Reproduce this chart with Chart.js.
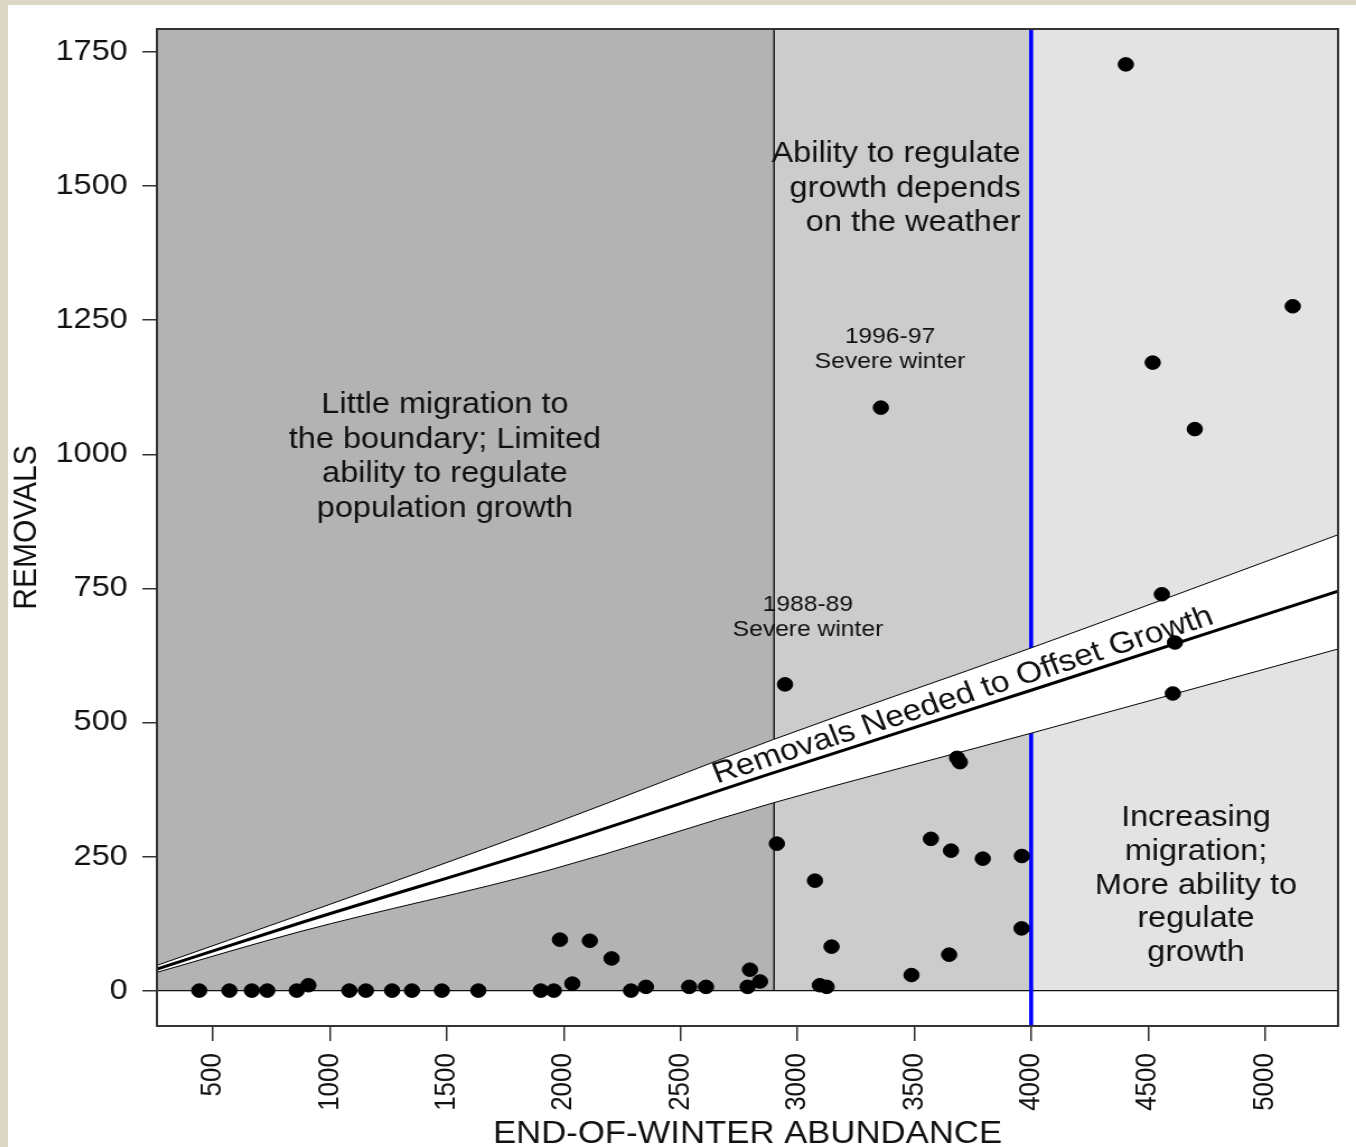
<!DOCTYPE html>
<html>
<head>
<meta charset="utf-8">
<title>Removals vs end-of-winter abundance</title>
<script src="https://cdn.jsdelivr.net/npm/chart.js@4"></script>
<style>
  html, body { margin: 0; padding: 0; }
  body { width: 1356px; height: 1147px; background: #dbd7c5; position: relative; overflow: hidden; }
  #wrap { position: absolute; left: 8px; top: 5px; width: 1348px; height: 1142px; background: #fff; }
  #chart { position: absolute; left: 0; top: 0; }
</style>
</head>
<body>
<div id="wrap">
  <!-- the original plot is stretched sideways, so the canvas is drawn narrow and widened by CSS -->
  <canvas id="chart" width="1204" height="1142" style="width:1348px;height:1142px"></canvas>
</div>
<script>
// Observed end-of-winter abundance and removals (one point per winter)
const abundance = [441, 570, 666, 732, 858, 908, 1083, 1154, 1266, 1351, 1479, 1635,
  1902, 1958, 1984, 2037, 2112, 2205, 2288, 2352, 2537, 2609, 2787, 2797, 2840,
  2912, 2947, 3075, 3096, 3125, 3146, 3357, 3488, 3571, 3649, 3657, 3683, 3695,
  3793, 3959, 3960, 4405, 4520, 4559, 4606, 4615, 4700, 5119];
const removals = [0, 0, 0, 0, 0, 10, 0, 0, 0, 0, 0, 0,
  0, 0, 95, 13, 93, 60, 0, 7, 7, 7, 7, 39, 17,
  274, 571, 205, 10, 7, 82, 1087, 29, 283, 67, 261, 434, 426,
  246, 116, 251, 1727, 1171, 739, 554, 649, 1047, 1276];

// Removals needed to offset growth, with its band
const bandX = [260, 872, 1941, 2896, 4000, 5313];
const bandUpper = [47, 141, 309, 468, 639, 850];
const bandMid = [40, 126, 269, 406, 560, 745];
const bandLower = [34, 110, 225, 350, 480, 637];

// Shaded zones along the abundance axis
const zoneEdges = [260, 2900, 4000, 5313];
const zoneColors = ['#b3b3b3', '#cccccc', '#e3e3e3'];
const weatherLimit = 2900;
const migrationLimit = 4000;

// Axes
const xRange = [260, 5313];
const yRange = [-66, 1793];
const xTicks = [500, 1000, 1500, 2000, 2500, 3000, 3500, 4000, 4500, 5000];
const yTicks = [0, 250, 500, 750, 1000, 1250, 1500, 1750];
const xTitle = 'END-OF-WINTER ABUNDANCE';
const yTitle = 'REMOVALS';

// Text placed in the plot (x, y in data units for the first line)
const notes = [
  { lines: ['Little migration to', 'the boundary; Limited', 'ability to regulate', 'population growth'],
    x: 1492, y: 1091, size: 29, gap: 34.5, align: 'center' },
  { lines: ['Ability to regulate', 'growth depends', 'on the weather'],
    x: 3955, y: 1559, size: 29, gap: 34.5, align: 'right' },
  { lines: ['Increasing', 'migration;', 'More ability to', 'regulate', 'growth'],
    x: 4705, y: 322, size: 29, gap: 33.8, align: 'center' },
  { lines: ['1996-97', 'Severe winter'], x: 3396, y: 1219, size: 22, gap: 25, align: 'center' },
  { lines: ['1988-89', 'Severe winter'], x: 3045, y: 720, size: 22, gap: 25, align: 'center' }
];
const bandLabel = { text: 'Removals Needed to Offset Growth', x: 3708, y: 550, size: 30 };

const FONT = '"Liberation Sans", Arial, sans-serif';

const toPts = (xs, ys) => xs.map((v, i) => ({ x: v, y: ys[i] }));

const zonesPlugin = {
  id: 'zones',
  beforeDatasetsDraw(chart) {
    const { ctx, chartArea: a, scales: { x, y } } = chart;
    const y0 = y.getPixelForValue(0);
    ctx.save();
    ctx.beginPath();
    ctx.rect(a.left, a.top, a.right - a.left, a.bottom - a.top);
    ctx.clip();

    for (let i = 0; i < zoneColors.length; i++) {
      const x1 = x.getPixelForValue(zoneEdges[i]);
      const x2 = x.getPixelForValue(zoneEdges[i + 1]);
      ctx.fillStyle = zoneColors[i];
      ctx.fillRect(x1, a.top, x2 - x1, y0 - a.top);
    }

    // edge of the first zone
    const xw = x.getPixelForValue(weatherLimit);
    ctx.strokeStyle = '#111';
    ctx.lineWidth = 1.4;
    ctx.beginPath();
    ctx.moveTo(xw, y0);
    ctx.lineTo(xw, a.top);
    ctx.stroke();

    // zero line
    ctx.beginPath();
    ctx.moveTo(a.left, y0);
    ctx.lineTo(a.right, y0);
    ctx.stroke();

    // migration threshold
    const xm = x.getPixelForValue(migrationLimit);
    ctx.strokeStyle = '#0000ff';
    ctx.lineWidth = 3.6;
    ctx.beginPath();
    ctx.moveTo(xm, a.top);
    ctx.lineTo(xm, a.bottom);
    ctx.stroke();
    ctx.restore();
  },
  afterDatasetsDraw(chart) {
    const { ctx, chartArea: a, scales: { x, y } } = chart;
    ctx.save();
    ctx.fillStyle = '#111';
    ctx.textBaseline = 'middle';

    notes.forEach(n => {
      ctx.font = `${n.size}px ${FONT}`;
      ctx.textAlign = n.align;
      const px = x.getPixelForValue(n.x);
      const py = y.getPixelForValue(n.y);
      n.lines.forEach((t, i) => ctx.fillText(t, px, py + i * n.gap));
    });

    // label along the middle line
    const p1x = x.getPixelForValue(bandX[3]), p1y = y.getPixelForValue(bandMid[3]);
    const p2x = x.getPixelForValue(bandX[5]), p2y = y.getPixelForValue(bandMid[5]);
    const angle = Math.atan2(p2y - p1y, p2x - p1x);
    ctx.save();
    ctx.translate(x.getPixelForValue(bandLabel.x), y.getPixelForValue(bandLabel.y));
    ctx.rotate(angle);
    ctx.font = `${bandLabel.size}px ${FONT}`;
    ctx.textAlign = 'center';
    ctx.fillText(bandLabel.text, 0, 0);
    ctx.restore();

    // plot box
    ctx.strokeStyle = '#333';
    ctx.lineWidth = 2;
    ctx.strokeRect(a.left, a.top, a.right - a.left, a.bottom - a.top);
    ctx.restore();
  },
  afterDraw(chart) {
    const { ctx, chartArea: a } = chart;
    ctx.save();
    ctx.fillStyle = '#111';
    ctx.textAlign = 'center';
    ctx.textBaseline = 'middle';
    ctx.font = `31px ${FONT}`;
    ctx.fillText(xTitle, (a.left + a.right) / 2, 1129);
    ctx.translate(17, (a.top + a.bottom) / 2);
    ctx.rotate(-Math.PI / 2);
    ctx.font = `30px ${FONT}`;
    ctx.fillText(yTitle, 0, 0);
    ctx.restore();
  }
};

new Chart(document.getElementById('chart'), {
  type: 'scatter',
  data: {
    datasets: [
      {
        label: 'Removals',
        data: toPts(abundance, removals),
        backgroundColor: '#000',
        borderColor: '#000',
        pointRadius: 6.8,
        pointHoverRadius: 6.8,
        order: 0
      },
      {
        type: 'line',
        label: 'Upper',
        data: toPts(bandX, bandUpper),
        borderColor: '#000',
        borderWidth: 1,
        backgroundColor: '#ffffff',
        fill: 3,
        pointRadius: 0,
        cubicInterpolationMode: 'monotone',
        order: 3
      },
      {
        type: 'line',
        label: 'Needed',
        data: toPts(bandX, bandMid),
        borderColor: '#000',
        borderWidth: 3,
        fill: false,
        pointRadius: 0,
        cubicInterpolationMode: 'monotone',
        order: 1
      },
      {
        type: 'line',
        label: 'Lower',
        data: toPts(bandX, bandLower),
        borderColor: '#000',
        borderWidth: 1,
        fill: false,
        pointRadius: 0,
        cubicInterpolationMode: 'monotone',
        order: 2
      }
    ]
  },
  options: {
    responsive: false,
    animation: false,
    events: [],
    layout: { padding: { top: 24, right: 16, left: 0, bottom: 0 } },
    plugins: {
      legend: { display: false },
      tooltip: { enabled: false }
    },
    scales: {
      x: {
        type: 'linear',
        min: xRange[0],
        max: xRange[1],
        border: { display: false },
        grid: { drawOnChartArea: false, drawTicks: true, tickLength: 15, color: '#333', lineWidth: 1.5 },
        afterBuildTicks: s => { s.ticks = xTicks.map(v => ({ value: v })); },
        afterFit: s => {
          s.height = 121;
          s.paddingLeft = 0;
          s.paddingRight = 0;
        },
        ticks: {
          autoSkip: false,
          minRotation: 90,
          maxRotation: 90,
          padding: 12,
          color: '#111',
          font: { family: FONT, size: 26 },
          callback: v => String(v)
        }
      },
      y: {
        type: 'linear',
        min: yRange[0],
        max: yRange[1],
        border: { display: false },
        grid: { drawOnChartArea: false, drawTicks: true, tickLength: 13, color: '#333', lineWidth: 1.5 },
        afterBuildTicks: s => { s.ticks = yTicks.map(v => ({ value: v })); },
        afterFit: s => {
          s.width = 133;
          s.paddingTop = 0;
          s.paddingBottom = 0;
        },
        ticks: {
          padding: 13,
          color: '#111',
          font: { family: FONT, size: 29 },
          callback: v => String(v)
        }
      }
    }
  },
  plugins: [zonesPlugin]
});
</script>
</body>
</html>
